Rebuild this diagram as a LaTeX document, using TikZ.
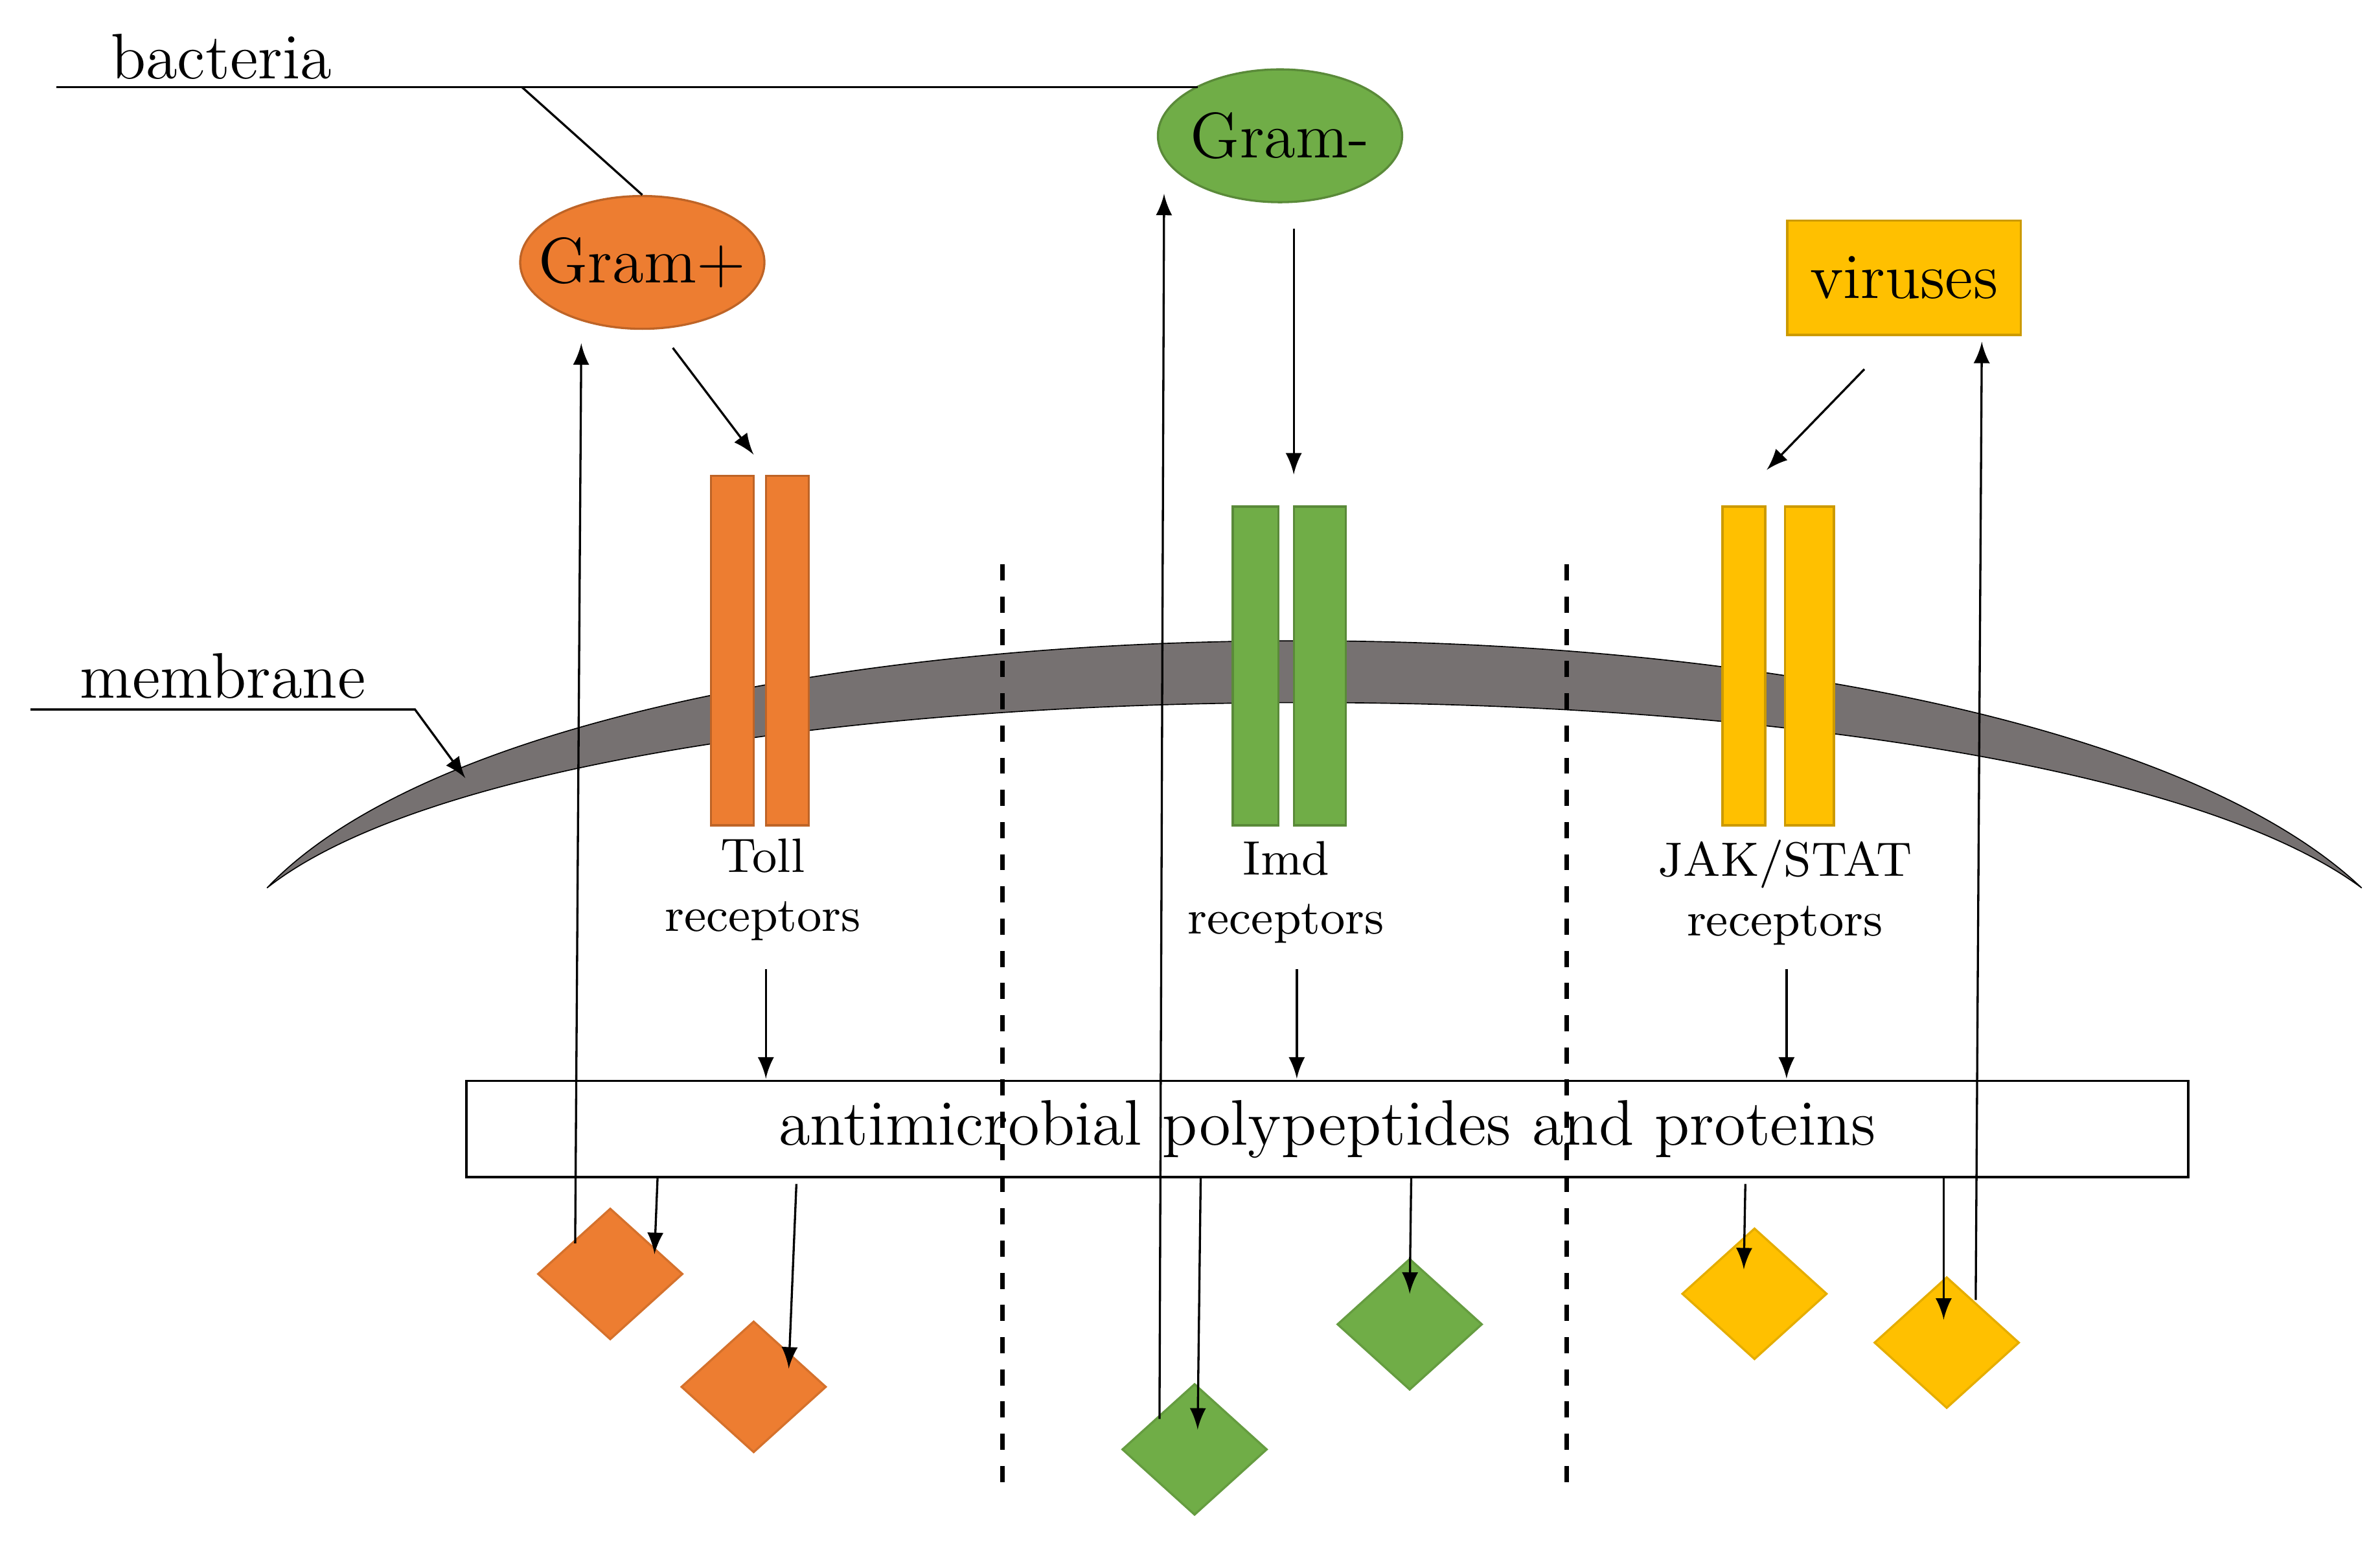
\documentclass[tikz,border=0pt]{standalone}
\usepackage{xcolor}
\usetikzlibrary{shapes,arrows,positioning,calc}
\definecolor{tollc}{HTML}{ED7D31}
\definecolor{imdc}{HTML}{70AD47}
\definecolor{jakc}{HTML}{FFC000}
\definecolor{membc}{HTML}{767171}
\tikzset{
  arr/.style={-latex, thin},
  recep/.style={draw=#1!80!black, fill=#1, thin},
  amp/.style={shape=diamond, fill=#1, draw=#1!90!black, minimum width=0.95cm, minimum height=0.86cm, inner sep=0pt},
  pathog/.style={ellipse, fill=#1, draw=#1!80!black, minimum width=1.6cm, minimum height=0.87cm, inner sep=0pt},
  lbl/.style={font=\large},
  rlbl/.style={align=center, font=\small, inner sep=0pt}
}
\begin{document}
\begin{tikzpicture}[x=0.01cm, y=-0.01cm]
    \useasboundingbox (0,0) rectangle (1560,1021);

    % Membrane
    \fill[membc, draw=black, very thin] (175,582) .. controls (380,366) and (1320,366) .. (1548,582)
        .. controls (1330,420) and (380,420) .. (175,582) -- cycle;

    % Pathway separators
    \draw[dashed, thick] (657,370) -- (657,975);
    \draw[dashed, thick] (1027,370) -- (1027,975);

    % Receptors
    \draw[recep=tollc] (466,312) rectangle (494,541);
    \draw[recep=tollc] (502,312) rectangle (530,541);
    \draw[recep=imdc] (808,332) rectangle (838,541);
    \draw[recep=imdc] (848,332) rectangle (882,541);
    \draw[recep=jakc] (1129,332) rectangle (1157,541);
    \draw[recep=jakc] (1170,332) rectangle (1202,541);

    \node[rlbl] (toll) at (500,583) {Toll\\receptors};
    \node[rlbl] (imd) at (843,585) {Imd\\receptors};
    \node[rlbl] (jak) at (1170,585) {JAK/STAT\\receptors};

    % Pathogens
    \node[pathog=tollc] (gpos) at (421,172) {};
    \node[lbl] at (gpos) {Gram+};
    \node[pathog=imdc] (gneg) at (839,89) {};
    \node[lbl] at (gneg) {Gram-};
    \node[fill=jakc, draw=jakc!80!black, minimum width=1.53cm, minimum height=0.75cm, lbl] (vir) at (1248,182) {viruses};

    % Labels
    \node[lbl] (bact) at (145,37) {bacteria};
    \draw (37,57) -- (785,57);
    \draw (342,57) -- (gpos.north);
    \node[lbl] (memb) at (146,443) {membrane};
    \draw[arr] (20,465) -- (272,465) -- (305,510);

    % AMP box
    \node[draw, minimum width=11.28cm, minimum height=0.63cm, lbl] (box) at (870,740) {antimicrobial polypeptides and proteins};

    % Recognition
    \draw[arr] (441,228) -- (494,298);
    \draw[arr] (848,150) -- (848,311);
    \draw[arr] (1222,242) -- (1158,308);
    \draw[arr] (502,635) -- (502,707);
    \draw[arr] (850,635) -- (850,707);
    \draw[arr] (1171,635) -- (1171,707);

    % Effectors
    \node[amp=tollc] (t1) at (400,835) {};
    \node[amp=tollc] (t2) at (494,909) {};
    \node[amp=imdc] (i1) at (783,950) {};
    \node[amp=imdc] (i2) at (924,868) {};
    \node[amp=jakc] (j1) at (1150,848) {};
    \node[amp=jakc] (j2) at (1276,880) {};

    \draw[arr] (431,772) -- (429,822);
    \draw[arr] (522,776) -- (517,897);
    \draw[arr] (787,772) -- (785,937);
    \draw[arr] (925,772) -- (924,848);
    \draw[arr] (1144,776) -- (1143,832);
    \draw[arr] (1274,772) -- (1274,865);

    % Killing
    \draw[arr] (377,815) -- (381,225);
    \draw[arr] (760,930) -- (763,127);
    \draw[arr] (1295,852) -- (1299,224);
\end{tikzpicture}
\end{document}
